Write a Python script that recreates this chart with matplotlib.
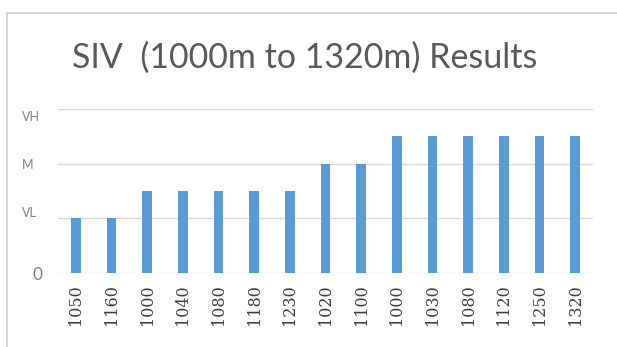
import matplotlib
matplotlib.use("Agg")
import matplotlib.pyplot as plt
import matplotlib.transforms as mtransforms
from matplotlib.lines import Line2D

categories = ["1050", "1160", "1000", "1040", "1080", "1180", "1230",
              "1020", "1100", "1000", "1030", "1080", "1120", "1250", "1320"]
values = [1.0, 1.0, 1.5, 1.5, 1.5, 1.5, 1.5, 2.0, 2.0, 2.5, 2.5, 2.5, 2.5, 2.5, 2.5]
ytick_values = [0, 1, 2, 3]
ytick_labels = ["0", "VL", "M", "VH"]
title = "SIV  (1000m to 1320m) Results"

fig = plt.figure(figsize=(6.17, 3.47), dpi=100)
fig.patch.set_facecolor("white")

# outer chart frame (top and left)
fig.add_artist(Line2D([7/617, 1.0], [1 - 13/347, 1 - 13/347], color="#d0d0d0", lw=1.2, transform=fig.transFigure))
fig.add_artist(Line2D([7/617, 7/617], [0, 1 - 13/347], color="#d0d0d0", lw=1.2, transform=fig.transFigure))

ax = fig.add_axes([58/617, 1 - 273/347, (593 - 58)/617, (273 - 109)/347])
x = list(range(len(categories)))
ax.bar(x, values, width=0.28, color="#5B9BD5", zorder=3)
ax.set_xlim(-0.5, len(categories) - 0.5)
ax.set_ylim(0, 3)
ax.set_yticks(ytick_values)
ax.set_yticklabels(ytick_labels)
ax.set_xticks(x)
ax.set_xticklabels(categories, rotation=90, family="DejaVu Serif", fontsize=11.5, color="#404040")
ax.grid(axis="y", color="#d9d9d9", lw=1, zorder=0)
for s in ax.spines.values():
    s.set_visible(False)
ax.tick_params(axis="both", length=0)
ax.tick_params(axis="x", pad=8)
ax.tick_params(axis="y", pad=26)

# y labels: left aligned, small gray text, "0" larger
offsets = {"0": (11, -1), "VL": (0, 6), "M": (0, 0), "VH": (0, -7)}
for lab in ax.get_yticklabels():
    t = lab.get_text()
    lab.set_ha("left")
    lab.set_color("#808080")
    lab.set_family("Lato")
    lab.set_fontsize(12.5 if t == "0" else 9)
    dx, dy = offsets.get(t, (0, 0))
    lab.set_transform(lab.get_transform() + mtransforms.ScaledTranslation(dx/100, dy/100, fig.dpi_scale_trans))

fig.text(72/617, 1 - 58/347, title, fontsize=24.5, family="Lato", color="#595959", va="center", ha="left")

fig.savefig("out.png", dpi=100)
